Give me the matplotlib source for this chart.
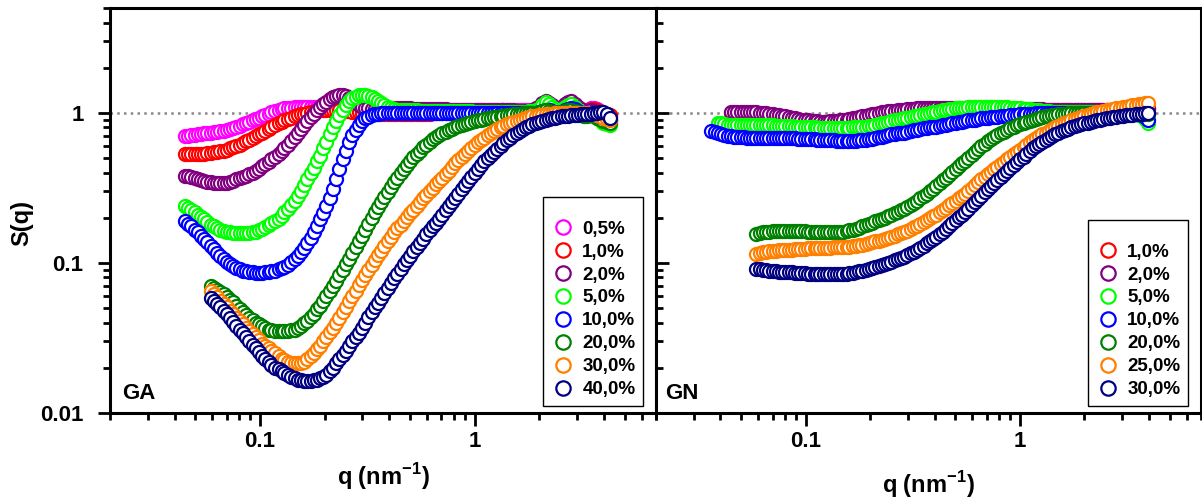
import numpy as np
import matplotlib
matplotlib.use("Agg")
import matplotlib.pyplot as plt
from matplotlib.ticker import LogLocator, NullFormatter

# q grids (nm^-1), one per panel
q_ga = [0.0447, 0.0463, 0.0479, 0.0496, 0.0513, 0.0531, 0.0550, 0.0569, 0.0589, 0.0610,
        0.0631, 0.0653, 0.0676, 0.0700, 0.0724, 0.0750, 0.0776, 0.0804, 0.0832, 0.0861,
        0.0891, 0.0923, 0.0955, 0.0989, 0.102, 0.106, 0.110, 0.113, 0.117, 0.122,
        0.126, 0.130, 0.135, 0.140, 0.145, 0.150, 0.155, 0.160, 0.166, 0.172,
        0.178, 0.184, 0.191, 0.197, 0.204, 0.211, 0.219, 0.226, 0.234, 0.243,
        0.251, 0.260, 0.269, 0.279, 0.288, 0.298, 0.309, 0.320, 0.331, 0.343,
        0.355, 0.367, 0.380, 0.394, 0.407, 0.422, 0.437, 0.452, 0.468, 0.484,
        0.501, 0.519, 0.537, 0.556, 0.575, 0.596, 0.617, 0.638, 0.661, 0.684,
        0.708, 0.733, 0.759, 0.785, 0.813, 0.841, 0.871, 0.902, 0.933, 0.966,
        1.00, 1.04, 1.07, 1.11, 1.15, 1.19, 1.23, 1.27, 1.32, 1.36,
        1.41, 1.46, 1.51, 1.57, 1.62, 1.68, 1.74, 1.80, 1.86, 1.93,
        2.00, 2.07, 2.14, 2.21, 2.29, 2.37, 2.45, 2.54, 2.63, 2.72,
        2.82, 2.92, 3.02, 3.13, 3.24, 3.35, 3.47, 3.59, 3.72, 3.85,
        3.98, 4.12, 4.27]
q_gn = [0.0363, 0.0376, 0.0389, 0.0403, 0.0417, 0.0432, 0.0447, 0.0463, 0.0479, 0.0496,
        0.0513, 0.0531, 0.0550, 0.0569, 0.0589, 0.0610, 0.0631, 0.0653, 0.0676, 0.0700,
        0.0724, 0.0750, 0.0776, 0.0804, 0.0832, 0.0861, 0.0891, 0.0923, 0.0955, 0.0989,
        0.102, 0.106, 0.110, 0.113, 0.117, 0.122, 0.126, 0.130, 0.135, 0.140,
        0.145, 0.150, 0.155, 0.160, 0.166, 0.172, 0.178, 0.184, 0.191, 0.197,
        0.204, 0.211, 0.219, 0.226, 0.234, 0.243, 0.251, 0.260, 0.269, 0.279,
        0.288, 0.298, 0.309, 0.320, 0.331, 0.343, 0.355, 0.367, 0.380, 0.394,
        0.407, 0.422, 0.437, 0.452, 0.468, 0.484, 0.501, 0.519, 0.537, 0.556,
        0.575, 0.596, 0.617, 0.638, 0.661, 0.684, 0.708, 0.733, 0.759, 0.785,
        0.813, 0.841, 0.871, 0.902, 0.933, 0.966, 1.00, 1.04, 1.07, 1.11,
        1.15, 1.19, 1.23, 1.27, 1.32, 1.36, 1.41, 1.46, 1.51, 1.57,
        1.62, 1.68, 1.74, 1.80, 1.86, 1.93, 2.00, 2.07, 2.14, 2.21,
        2.29, 2.37, 2.45, 2.54, 2.63, 2.72, 2.82, 2.92, 3.02, 3.13,
        3.24, 3.35, 3.47, 3.59, 3.72, 3.85, 3.98]

# GA series S(q); shorter lists start later, every list ends at the last q
ga_05 = [0.70, 0.705, 0.71, 0.715, 0.72, 0.725, 0.73, 0.735, 0.74, 0.745,
         0.75, 0.755, 0.76, 0.77, 0.78, 0.79, 0.80, 0.82, 0.84, 0.855,
         0.87, 0.89, 0.91, 0.93, 0.95, 0.97, 0.99, 1.01, 1.03, 1.045,
         1.06, 1.07, 1.08, 1.085, 1.09, 1.095, 1.10, 1.10, 1.10, 1.10,
         1.10, 1.095, 1.09, 1.085, 1.08, 1.075, 1.07, 1.065, 1.06, 1.055,
         1.05, 1.05, 1.05, 1.045, 1.04, 1.04, 1.04, 1.04, 1.04, 1.04,
         1.04, 1.04, 1.04, 1.045, 1.05, 1.05, 1.05, 1.05, 1.05, 1.05,
         1.05, 1.05, 1.05, 1.045, 1.04, 1.04, 1.04, 1.04, 1.04, 1.04,
         1.04, 1.04, 1.04, 1.04, 1.04, 1.04, 1.04, 1.04, 1.04, 1.04,
         1.04, 1.04, 1.04, 1.04, 1.04, 1.04, 1.04, 1.04, 1.04, 1.04,
         1.04, 1.04, 1.04, 1.04, 1.04, 1.045, 1.05, 1.05, 1.05, 1.06,
         1.08, 1.12, 1.15, 1.13, 1.10, 1.07, 1.05, 1.08, 1.12, 1.15,
         1.16, 1.12, 1.08, 1.05, 1.03, 1.05, 1.08, 1.07, 1.06, 1.03,
         1.00, 0.98, 0.96]
ga_1 = [0.53, 0.53, 0.53, 0.53, 0.53, 0.532, 0.535, 0.538, 0.54, 0.545,
        0.55, 0.555, 0.56, 0.57, 0.58, 0.59, 0.60, 0.615, 0.63, 0.645,
        0.66, 0.68, 0.70, 0.72, 0.74, 0.76, 0.78, 0.805, 0.83, 0.85,
        0.87, 0.89, 0.91, 0.93, 0.95, 0.965, 0.98, 0.99, 1.00, 1.01,
        1.02, 1.03, 1.04, 1.045, 1.05, 1.05, 1.05, 1.045, 1.04, 1.035,
        1.03, 1.025, 1.02, 1.015, 1.01, 1.005, 1.00, 0.995, 0.99, 0.99,
        0.99, 0.99, 0.99, 0.99, 0.99, 0.99, 0.99, 0.99, 0.99, 0.99,
        0.99, 0.99, 0.99, 0.99, 0.99, 0.99, 0.99, 0.995, 1.00, 1.00,
        1.00, 1.00, 1.00, 1.00, 1.00, 1.00, 1.00, 1.00, 1.00, 1.00,
        1.00, 1.00, 1.00, 1.00, 1.00, 1.00, 1.00, 1.00, 1.00, 1.00,
        1.00, 1.00, 1.00, 1.00, 1.00, 1.005, 1.01, 1.015, 1.02, 1.03,
        1.05, 1.09, 1.13, 1.10, 1.07, 1.04, 1.02, 1.06, 1.10, 1.13,
        1.14, 1.10, 1.06, 1.03, 1.00, 1.03, 1.06, 1.06, 1.05, 1.02,
        1.00, 0.985, 0.97]
ga_2 = [0.38, 0.378, 0.375, 0.368, 0.36, 0.355, 0.35, 0.347, 0.345, 0.342,
        0.34, 0.34, 0.34, 0.342, 0.345, 0.352, 0.36, 0.367, 0.375, 0.382,
        0.39, 0.40, 0.41, 0.425, 0.44, 0.455, 0.47, 0.49, 0.51, 0.535,
        0.56, 0.585, 0.61, 0.65, 0.69, 0.735, 0.78, 0.83, 0.88, 0.935,
        0.99, 1.045, 1.10, 1.145, 1.19, 1.23, 1.27, 1.30, 1.32, 1.315,
        1.30, 1.26, 1.22, 1.175, 1.13, 1.10, 1.08, 1.07, 1.06, 1.06,
        1.06, 1.065, 1.07, 1.07, 1.07, 1.07, 1.07, 1.07, 1.07, 1.07,
        1.07, 1.065, 1.06, 1.06, 1.06, 1.06, 1.06, 1.06, 1.06, 1.06,
        1.06, 1.055, 1.05, 1.05, 1.05, 1.05, 1.05, 1.05, 1.05, 1.05,
        1.05, 1.05, 1.05, 1.045, 1.04, 1.04, 1.04, 1.04, 1.04, 1.04,
        1.04, 1.04, 1.04, 1.035, 1.03, 1.03, 1.03, 1.035, 1.04, 1.07,
        1.10, 1.16, 1.20, 1.16, 1.12, 1.08, 1.05, 1.10, 1.15, 1.18,
        1.20, 1.15, 1.10, 1.06, 1.02, 1.03, 1.05, 1.03, 1.00, 0.96,
        0.92, 0.90, 0.88]
ga_5 = [0.24, 0.232, 0.225, 0.217, 0.21, 0.202, 0.195, 0.187, 0.18, 0.175,
        0.17, 0.166, 0.163, 0.161, 0.16, 0.159, 0.158, 0.158, 0.158, 0.158,
        0.159, 0.16, 0.162, 0.165, 0.168, 0.173, 0.178, 0.184, 0.19, 0.197,
        0.205, 0.217, 0.23, 0.245, 0.26, 0.28, 0.30, 0.33, 0.36, 0.395,
        0.43, 0.475, 0.52, 0.58, 0.64, 0.72, 0.80, 0.885, 0.97, 1.05,
        1.13, 1.195, 1.25, 1.285, 1.31, 1.32, 1.32, 1.305, 1.28, 1.24,
        1.20, 1.16, 1.12, 1.09, 1.07, 1.06, 1.05, 1.045, 1.04, 1.04,
        1.04, 1.04, 1.04, 1.035, 1.03, 1.03, 1.03, 1.03, 1.03, 1.03,
        1.03, 1.03, 1.03, 1.03, 1.03, 1.03, 1.03, 1.03, 1.03, 1.025,
        1.02, 1.02, 1.02, 1.02, 1.02, 1.02, 1.02, 1.02, 1.02, 1.02,
        1.02, 1.02, 1.02, 1.02, 1.02, 1.02, 1.02, 1.025, 1.03, 1.04,
        1.06, 1.12, 1.18, 1.14, 1.10, 1.06, 1.02, 1.06, 1.10, 1.13,
        1.15, 1.10, 1.05, 1.00, 0.95, 0.965, 0.98, 0.955, 0.93, 0.895,
        0.86, 0.845, 0.83]
ga_10 = [0.19, 0.182, 0.175, 0.167, 0.16, 0.152, 0.145, 0.137, 0.13, 0.123,
         0.117, 0.111, 0.106, 0.102, 0.098, 0.095, 0.092, 0.0905, 0.089, 0.088,
         0.087, 0.0865, 0.086, 0.086, 0.086, 0.0865, 0.087, 0.088, 0.089, 0.0905,
         0.092, 0.094, 0.097, 0.101, 0.106, 0.112, 0.118, 0.126, 0.135, 0.147,
         0.16, 0.177, 0.195, 0.215, 0.24, 0.27, 0.31, 0.36, 0.42, 0.49,
         0.56, 0.635, 0.71, 0.77, 0.83, 0.88, 0.92, 0.945, 0.97, 0.98,
         0.99, 0.995, 1.00, 1.00, 1.00, 1.00, 1.00, 1.00, 1.00, 1.00,
         1.00, 1.00, 1.00, 1.00, 1.00, 1.00, 1.00, 1.00, 1.00, 1.00,
         1.00, 1.00, 1.00, 1.00, 1.00, 1.00, 1.00, 1.00, 1.00, 1.00,
         1.00, 1.00, 1.00, 1.00, 1.00, 1.00, 1.00, 1.00, 1.00, 1.00,
         1.00, 1.00, 1.00, 1.00, 1.00, 1.00, 1.00, 1.00, 1.00, 1.00,
         1.01, 1.03, 1.05, 1.04, 1.03, 1.015, 1.00, 1.02, 1.04, 1.06,
         1.08, 1.055, 1.03, 1.00, 0.97, 0.985, 1.00, 0.985, 0.97, 0.945,
         0.92, 0.91, 0.90]
ga_20 = [0.070, 0.068,
         0.066, 0.064, 0.062, 0.0595, 0.057, 0.0545, 0.052, 0.0495, 0.047, 0.045,
         0.043, 0.0415, 0.040, 0.039, 0.038, 0.037, 0.036, 0.0355, 0.035, 0.035,
         0.035, 0.035, 0.035, 0.0355, 0.036, 0.037, 0.038, 0.0395, 0.041, 0.0435,
         0.046, 0.049, 0.052, 0.056, 0.060, 0.065, 0.070, 0.076, 0.083, 0.090,
         0.098, 0.107, 0.117, 0.128, 0.14, 0.152, 0.165, 0.182, 0.20, 0.217,
         0.235, 0.255, 0.275, 0.297, 0.32, 0.345, 0.37, 0.395, 0.42, 0.45,
         0.48, 0.505, 0.53, 0.56, 0.59, 0.615, 0.64, 0.665, 0.69, 0.71,
         0.73, 0.75, 0.77, 0.785, 0.80, 0.815, 0.83, 0.845, 0.86, 0.87,
         0.88, 0.89, 0.90, 0.91, 0.92, 0.93, 0.94, 0.945, 0.95, 0.96,
         0.97, 0.975, 0.98, 0.985, 0.99, 0.995, 1.00, 1.00, 1.00, 1.005,
         1.01, 1.025, 1.04, 1.03, 1.02, 1.01, 1.00, 1.015, 1.03, 1.04,
         1.05, 1.03, 1.01, 0.98, 0.95, 0.96, 0.97, 0.95, 0.93, 0.905,
         0.88, 0.865, 0.85]
ga_30 = [0.065, 0.062,
         0.059, 0.056, 0.053, 0.0505, 0.048, 0.0455, 0.043, 0.041, 0.039, 0.037,
         0.035, 0.0335, 0.032, 0.0305, 0.029, 0.028, 0.027, 0.026, 0.025, 0.024,
         0.023, 0.0225, 0.022, 0.0217, 0.0215, 0.0214, 0.0215, 0.022, 0.023, 0.024,
         0.025, 0.0265, 0.028, 0.030, 0.032, 0.0345, 0.037, 0.040, 0.043, 0.047,
         0.051, 0.0555, 0.060, 0.065, 0.071, 0.077, 0.083, 0.090, 0.097, 0.105,
         0.113, 0.121, 0.13, 0.14, 0.15, 0.16, 0.17, 0.18, 0.19, 0.202,
         0.215, 0.227, 0.24, 0.255, 0.27, 0.285, 0.30, 0.317, 0.335, 0.352,
         0.37, 0.39, 0.41, 0.435, 0.46, 0.485, 0.51, 0.535, 0.56, 0.585,
         0.61, 0.635, 0.66, 0.685, 0.71, 0.735, 0.76, 0.78, 0.80, 0.82,
         0.84, 0.855, 0.87, 0.885, 0.90, 0.915, 0.93, 0.94, 0.95, 0.96,
         0.97, 0.975, 0.98, 0.985, 0.99, 0.995, 1.00, 1.00, 1.00, 1.00,
         1.00, 1.00, 1.00, 1.00, 1.00, 0.995, 0.99, 0.98, 0.97, 0.95,
         0.93, 0.915, 0.90]
ga_40 = [0.058, 0.0555,
         0.053, 0.0505, 0.048, 0.0455, 0.043, 0.0405, 0.038, 0.036, 0.034, 0.032,
         0.030, 0.0285, 0.027, 0.0255, 0.024, 0.023, 0.022, 0.021, 0.020, 0.0195,
         0.019, 0.0184, 0.0178, 0.0174, 0.017, 0.0167, 0.0165, 0.0164, 0.0163, 0.0164,
         0.0165, 0.0167, 0.017, 0.0175, 0.018, 0.019, 0.020, 0.0215, 0.023, 0.0245,
         0.026, 0.028, 0.030, 0.032, 0.034, 0.037, 0.040, 0.0435, 0.047, 0.0505,
         0.054, 0.058, 0.063, 0.068, 0.073, 0.079, 0.085, 0.091, 0.098, 0.105,
         0.112, 0.12, 0.128, 0.136, 0.145, 0.155, 0.165, 0.175, 0.185, 0.197,
         0.21, 0.225, 0.24, 0.255, 0.27, 0.29, 0.31, 0.33, 0.35, 0.375,
         0.40, 0.425, 0.45, 0.475, 0.50, 0.525, 0.55, 0.575, 0.60, 0.63,
         0.66, 0.685, 0.71, 0.735, 0.76, 0.78, 0.80, 0.82, 0.84, 0.855,
         0.87, 0.885, 0.90, 0.91, 0.92, 0.93, 0.94, 0.948, 0.955, 0.96,
         0.965, 0.97, 0.975, 0.98, 0.985, 0.988, 0.99, 0.995, 1.00, 1.01,
         1.02, 0.98, 0.93]

# GN series S(q)
gn_1 = [1.00, 1.00, 1.00, 1.00,
        1.00, 1.00, 1.00, 0.995, 0.99, 0.985, 0.98, 0.975, 0.97, 0.96,
        0.95, 0.945, 0.94, 0.93, 0.92, 0.91, 0.90, 0.895, 0.89, 0.885,
        0.88, 0.875, 0.87, 0.87, 0.87, 0.87, 0.87, 0.87, 0.87, 0.875,
        0.88, 0.885, 0.89, 0.90, 0.91, 0.92, 0.93, 0.94, 0.95, 0.96,
        0.97, 0.98, 0.99, 0.995, 1.00, 1.005, 1.01, 1.015, 1.02, 1.025,
        1.03, 1.035, 1.04, 1.045, 1.05, 1.05, 1.05, 1.055, 1.06, 1.06,
        1.06, 1.06, 1.06, 1.06, 1.06, 1.06, 1.06, 1.06, 1.06, 1.06,
        1.06, 1.06, 1.06, 1.06, 1.06, 1.06, 1.06, 1.055, 1.05, 1.05,
        1.05, 1.05, 1.05, 1.05, 1.05, 1.05, 1.05, 1.05, 1.05, 1.05,
        1.05, 1.045, 1.04, 1.04, 1.04, 1.04, 1.04, 1.04, 1.04, 1.04,
        1.04, 1.04, 1.04, 1.04, 1.04, 1.04, 1.04, 1.04, 1.04, 1.04,
        1.04, 1.04, 1.04, 1.04, 1.04, 1.04, 1.04, 1.045, 1.05, 1.05,
        1.05, 1.055, 1.06, 1.065, 1.07, 1.075, 1.08]
gn_2 = [1.02, 1.02, 1.02, 1.02,
        1.02, 1.02, 1.02, 1.015, 1.01, 1.005, 1.00, 0.995, 0.99, 0.98,
        0.97, 0.965, 0.96, 0.95, 0.94, 0.93, 0.92, 0.91, 0.90, 0.895,
        0.89, 0.885, 0.88, 0.877, 0.875, 0.875, 0.875, 0.877, 0.88, 0.885,
        0.89, 0.895, 0.90, 0.91, 0.92, 0.93, 0.94, 0.95, 0.96, 0.97,
        0.98, 0.99, 1.00, 1.01, 1.02, 1.025, 1.03, 1.035, 1.04, 1.045,
        1.05, 1.055, 1.06, 1.065, 1.07, 1.07, 1.07, 1.075, 1.08, 1.08,
        1.08, 1.08, 1.08, 1.08, 1.08, 1.08, 1.08, 1.08, 1.08, 1.08,
        1.08, 1.08, 1.08, 1.08, 1.07, 1.07, 1.07, 1.07, 1.07, 1.07,
        1.07, 1.07, 1.07, 1.065, 1.06, 1.06, 1.06, 1.06, 1.06, 1.06,
        1.06, 1.06, 1.06, 1.055, 1.05, 1.05, 1.05, 1.05, 1.05, 1.05,
        1.05, 1.05, 1.05, 1.045, 1.04, 1.04, 1.04, 1.04, 1.04, 1.04,
        1.04, 1.04, 1.04, 1.04, 1.04, 1.04, 1.04, 1.045, 1.05, 1.05,
        1.05, 1.05, 1.05, 1.055, 1.06, 1.06, 1.06]
gn_5 = [0.86, 0.85, 0.84, 0.835, 0.83, 0.83, 0.83, 0.83,
        0.83, 0.83, 0.83, 0.83, 0.83, 0.83, 0.83, 0.83, 0.83, 0.825,
        0.82, 0.82, 0.82, 0.82, 0.82, 0.815, 0.81, 0.81, 0.81, 0.805,
        0.80, 0.80, 0.80, 0.795, 0.79, 0.79, 0.79, 0.79, 0.79, 0.79,
        0.79, 0.79, 0.79, 0.795, 0.80, 0.80, 0.80, 0.805, 0.81, 0.815,
        0.82, 0.83, 0.84, 0.85, 0.86, 0.87, 0.88, 0.89, 0.90, 0.91,
        0.92, 0.93, 0.94, 0.95, 0.96, 0.97, 0.98, 0.99, 1.00, 1.01,
        1.02, 1.03, 1.04, 1.05, 1.06, 1.065, 1.07, 1.075, 1.08, 1.085,
        1.09, 1.095, 1.10, 1.10, 1.10, 1.10, 1.10, 1.10, 1.10, 1.10,
        1.10, 1.095, 1.09, 1.085, 1.08, 1.075, 1.07, 1.065, 1.06, 1.055,
        1.05, 1.045, 1.04, 1.035, 1.03, 1.025, 1.02, 1.02, 1.02, 1.02,
        1.02, 1.02, 1.02, 1.02, 1.02, 1.02, 1.02, 1.02, 1.02, 1.02,
        1.02, 1.015, 1.01, 1.01, 1.01, 1.01, 1.01, 1.005, 1.00, 1.00,
        1.00, 1.00, 1.00, 0.975, 0.95, 0.905, 0.86]
gn_10 = [0.76, 0.745, 0.73, 0.72, 0.71, 0.705, 0.70, 0.695, 0.69, 0.69,
         0.69, 0.685, 0.68, 0.68, 0.68, 0.68, 0.68, 0.68, 0.68, 0.68,
         0.68, 0.68, 0.68, 0.68, 0.68, 0.677, 0.675, 0.672, 0.67, 0.67,
         0.67, 0.667, 0.665, 0.662, 0.66, 0.66, 0.66, 0.657, 0.655, 0.652,
         0.65, 0.65, 0.65, 0.65, 0.65, 0.652, 0.655, 0.657, 0.66, 0.665,
         0.67, 0.68, 0.69, 0.695, 0.70, 0.71, 0.72, 0.725, 0.73, 0.735,
         0.74, 0.75, 0.76, 0.765, 0.77, 0.78, 0.79, 0.795, 0.80, 0.805,
         0.81, 0.82, 0.83, 0.835, 0.84, 0.85, 0.86, 0.865, 0.87, 0.88,
         0.89, 0.895, 0.90, 0.91, 0.92, 0.925, 0.93, 0.935, 0.94, 0.945,
         0.95, 0.955, 0.96, 0.965, 0.97, 0.975, 0.98, 0.985, 0.99, 0.99,
         0.99, 0.995, 1.00, 1.00, 1.00, 1.00, 1.00, 1.00, 1.00, 1.00,
         1.00, 1.00, 1.00, 1.00, 1.00, 1.00, 1.00, 1.00, 1.00, 1.00,
         1.00, 1.00, 1.00, 1.00, 1.00, 1.00, 1.00, 1.00, 1.00, 1.00,
         1.00, 1.00, 1.00, 0.985, 0.97, 0.935, 0.90]
gn_20 = [0.157, 0.158, 0.16, 0.161, 0.162, 0.1625,
         0.163, 0.163, 0.163, 0.163, 0.163, 0.163, 0.163, 0.163, 0.163, 0.1625,
         0.162, 0.1615, 0.161, 0.1605, 0.16, 0.16, 0.16, 0.16, 0.16, 0.1605,
         0.161, 0.162, 0.163, 0.165, 0.167, 0.169, 0.172, 0.175, 0.178, 0.181,
         0.185, 0.189, 0.193, 0.196, 0.20, 0.205, 0.21, 0.215, 0.22, 0.225,
         0.23, 0.237, 0.245, 0.252, 0.26, 0.27, 0.28, 0.29, 0.30, 0.312,
         0.325, 0.34, 0.355, 0.37, 0.385, 0.402, 0.42, 0.44, 0.46, 0.48,
         0.50, 0.525, 0.55, 0.575, 0.60, 0.625, 0.65, 0.67, 0.69, 0.71,
         0.73, 0.75, 0.77, 0.79, 0.81, 0.825, 0.84, 0.855, 0.87, 0.885,
         0.90, 0.915, 0.93, 0.94, 0.95, 0.96, 0.97, 0.975, 0.98, 0.985,
         0.99, 0.995, 1.00, 1.00, 1.00, 1.00, 1.00, 1.00, 1.00, 1.00,
         1.00, 1.00, 1.00, 1.00, 1.00, 1.00, 1.00, 1.00, 1.00, 1.00,
         1.00, 1.00, 1.00, 1.00, 1.00, 0.99, 0.98]
gn_25 = [0.115, 0.1165, 0.118, 0.119, 0.12, 0.1205,
         0.121, 0.1215, 0.122, 0.122, 0.122, 0.1225, 0.123, 0.1235, 0.124, 0.1245,
         0.125, 0.125, 0.125, 0.1255, 0.126, 0.126, 0.126, 0.1265, 0.127, 0.127,
         0.127, 0.1275, 0.128, 0.1285, 0.129, 0.13, 0.131, 0.1325, 0.134, 0.1355,
         0.137, 0.139, 0.141, 0.143, 0.145, 0.147, 0.149, 0.152, 0.155, 0.158,
         0.161, 0.1645, 0.168, 0.1725, 0.177, 0.182, 0.187, 0.1925, 0.198, 0.204,
         0.21, 0.217, 0.225, 0.233, 0.242, 0.251, 0.26, 0.27, 0.28, 0.29,
         0.30, 0.315, 0.33, 0.345, 0.36, 0.375, 0.39, 0.405, 0.42, 0.437,
         0.455, 0.472, 0.49, 0.51, 0.53, 0.55, 0.57, 0.59, 0.61, 0.635,
         0.66, 0.68, 0.70, 0.72, 0.74, 0.76, 0.78, 0.80, 0.82, 0.84,
         0.86, 0.875, 0.89, 0.91, 0.93, 0.945, 0.96, 0.975, 0.99, 1.00,
         1.01, 1.02, 1.03, 1.04, 1.05, 1.06, 1.07, 1.08, 1.09, 1.10,
         1.11, 1.12, 1.13, 1.14, 1.15, 1.155, 1.16]
gn_30 = [0.091, 0.0905, 0.09, 0.0895, 0.089, 0.0885,
         0.088, 0.0875, 0.087, 0.087, 0.087, 0.0865, 0.086, 0.086, 0.086, 0.0855,
         0.085, 0.0845, 0.084, 0.084, 0.084, 0.084, 0.084, 0.084, 0.084, 0.084,
         0.084, 0.0845, 0.085, 0.0855, 0.086, 0.087, 0.088, 0.089, 0.09, 0.091,
         0.092, 0.0935, 0.095, 0.0965, 0.098, 0.10, 0.102, 0.104, 0.106, 0.108,
         0.11, 0.113, 0.116, 0.119, 0.122, 0.126, 0.13, 0.135, 0.14, 0.145,
         0.15, 0.156, 0.162, 0.169, 0.176, 0.184, 0.192, 0.201, 0.21, 0.22,
         0.23, 0.242, 0.255, 0.267, 0.28, 0.295, 0.31, 0.325, 0.34, 0.357,
         0.375, 0.392, 0.41, 0.43, 0.45, 0.47, 0.49, 0.51, 0.53, 0.555,
         0.58, 0.60, 0.62, 0.64, 0.66, 0.68, 0.70, 0.72, 0.74, 0.755,
         0.77, 0.785, 0.80, 0.815, 0.83, 0.84, 0.85, 0.86, 0.87, 0.88,
         0.89, 0.90, 0.91, 0.92, 0.93, 0.935, 0.94, 0.95, 0.96, 0.965,
         0.97, 0.975, 0.98, 0.985, 0.99, 0.995, 1.00]

ga_labels = ["0,5%", "1,0%", "2,0%", "5,0%", "10,0%", "20,0%", "30,0%", "40,0%"]
ga_colors = ["#FF00FF", "#FF0000", "#800080", "#00FF00", "#0000FF", "#008000", "#FF8000", "#000080"]
gn_labels = ["1,0%", "2,0%", "5,0%", "10,0%", "20,0%", "25,0%", "30,0%"]
gn_colors = ["#FF0000", "#800080", "#00FF00", "#0000FF", "#008000", "#FF8000", "#000080"]

plt.rcParams['font.family'] = ['Liberation Sans', 'DejaVu Sans']
plt.rcParams['font.weight'] = 'bold'
plt.rcParams['mathtext.fontset'] = 'custom'
plt.rcParams['mathtext.rm'] = 'Liberation Sans:bold'
plt.rcParams['mathtext.bf'] = 'Liberation Sans:bold'

W, H = 1202, 499
fig = plt.figure(figsize=(W / 100, H / 100), dpi=100)
ax1 = fig.add_axes([110 / W, 86 / H, 546 / W, 405 / H])
ax2 = fig.add_axes([656 / W, 86 / H, 545 / W, 405 / H])


def draw_panel(ax, q, series, colors, labels):
    ax.axhline(1, color='#888888', ls=(0, (1, 1.7)), lw=1.8, zorder=1)
    for s, c, lab in zip(series, colors, labels):
        n = min(len(s), len(q))
        ax.plot(q[len(q) - n:], s[len(s) - n:], ls='none', marker='o', ms=9.4, mew=1.6,
                mec=c, mfc='white', label=lab, zorder=2)
    ax.set_xscale('log')
    ax.set_yscale('log')
    ax.set_xlim(0.02, 7)
    ax.set_ylim(0.01, 5)
    ax.set_xticks([0.1, 1])
    ax.set_xticklabels(['0.1', '1'])
    ax.set_yticks([0.01, 0.1, 1])
    ax.set_yticklabels(['0.01', '0.1', '1'])
    ax.xaxis.set_minor_locator(LogLocator(base=10, subs=np.arange(2, 10)))
    ax.yaxis.set_minor_locator(LogLocator(base=10, subs=np.arange(2, 10)))
    ax.xaxis.set_minor_formatter(NullFormatter())
    ax.yaxis.set_minor_formatter(NullFormatter())
    for sp in ax.spines.values():
        sp.set_linewidth(2.2)
    ax.tick_params(which='major', length=9, width=2, labelsize=16, pad=4)
    ax.tick_params(which='minor', length=5, width=2)
    ax.tick_params(which='both', direction='out', top=False, right=False)
    ax.set_xlabel('q (nm$^{-1}$)', fontsize=17, fontweight='bold')
    leg = ax.legend(loc='lower right', bbox_to_anchor=(0.976, 0.018), borderaxespad=0,
                    fontsize=13.5, frameon=True, fancybox=False, framealpha=1,
                    edgecolor='black', numpoints=1, markerscale=1.1,
                    handlelength=1.35, handletextpad=0.35, labelspacing=0.31,
                    borderpad=0.4, title=' ', title_fontsize=8)
    leg.get_frame().set_linewidth(1.0)


draw_panel(ax1, q_ga, [ga_05, ga_1, ga_2, ga_5, ga_10, ga_20, ga_30, ga_40], ga_colors, ga_labels)
draw_panel(ax2, q_gn, [gn_1, gn_2, gn_5, gn_10, gn_20, gn_25, gn_30], gn_colors, gn_labels)

# y tick labels sit further from the spine on the left panel
ax1.tick_params(axis='y', which='major', pad=10)
# right panel: inward y ticks, no labels
ax2.tick_params(axis='y', which='both', direction='in', labelleft=False)

ax1.set_ylabel('S(q)', fontsize=17, fontweight='bold')
ax1.yaxis.set_label_coords(-0.14, 0.47)
ax1.xaxis.set_label_coords(0.5, -0.12)
ax2.xaxis.set_label_coords(0.5, -0.138)

ax1.text(0.022, 0.035, 'GA', transform=ax1.transAxes, fontsize=16, fontweight='bold', va='baseline')
ax2.text(0.017, 0.035, 'GN', transform=ax2.transAxes, fontsize=16, fontweight='bold', va='baseline')

fig.savefig('out.png', dpi=100)
